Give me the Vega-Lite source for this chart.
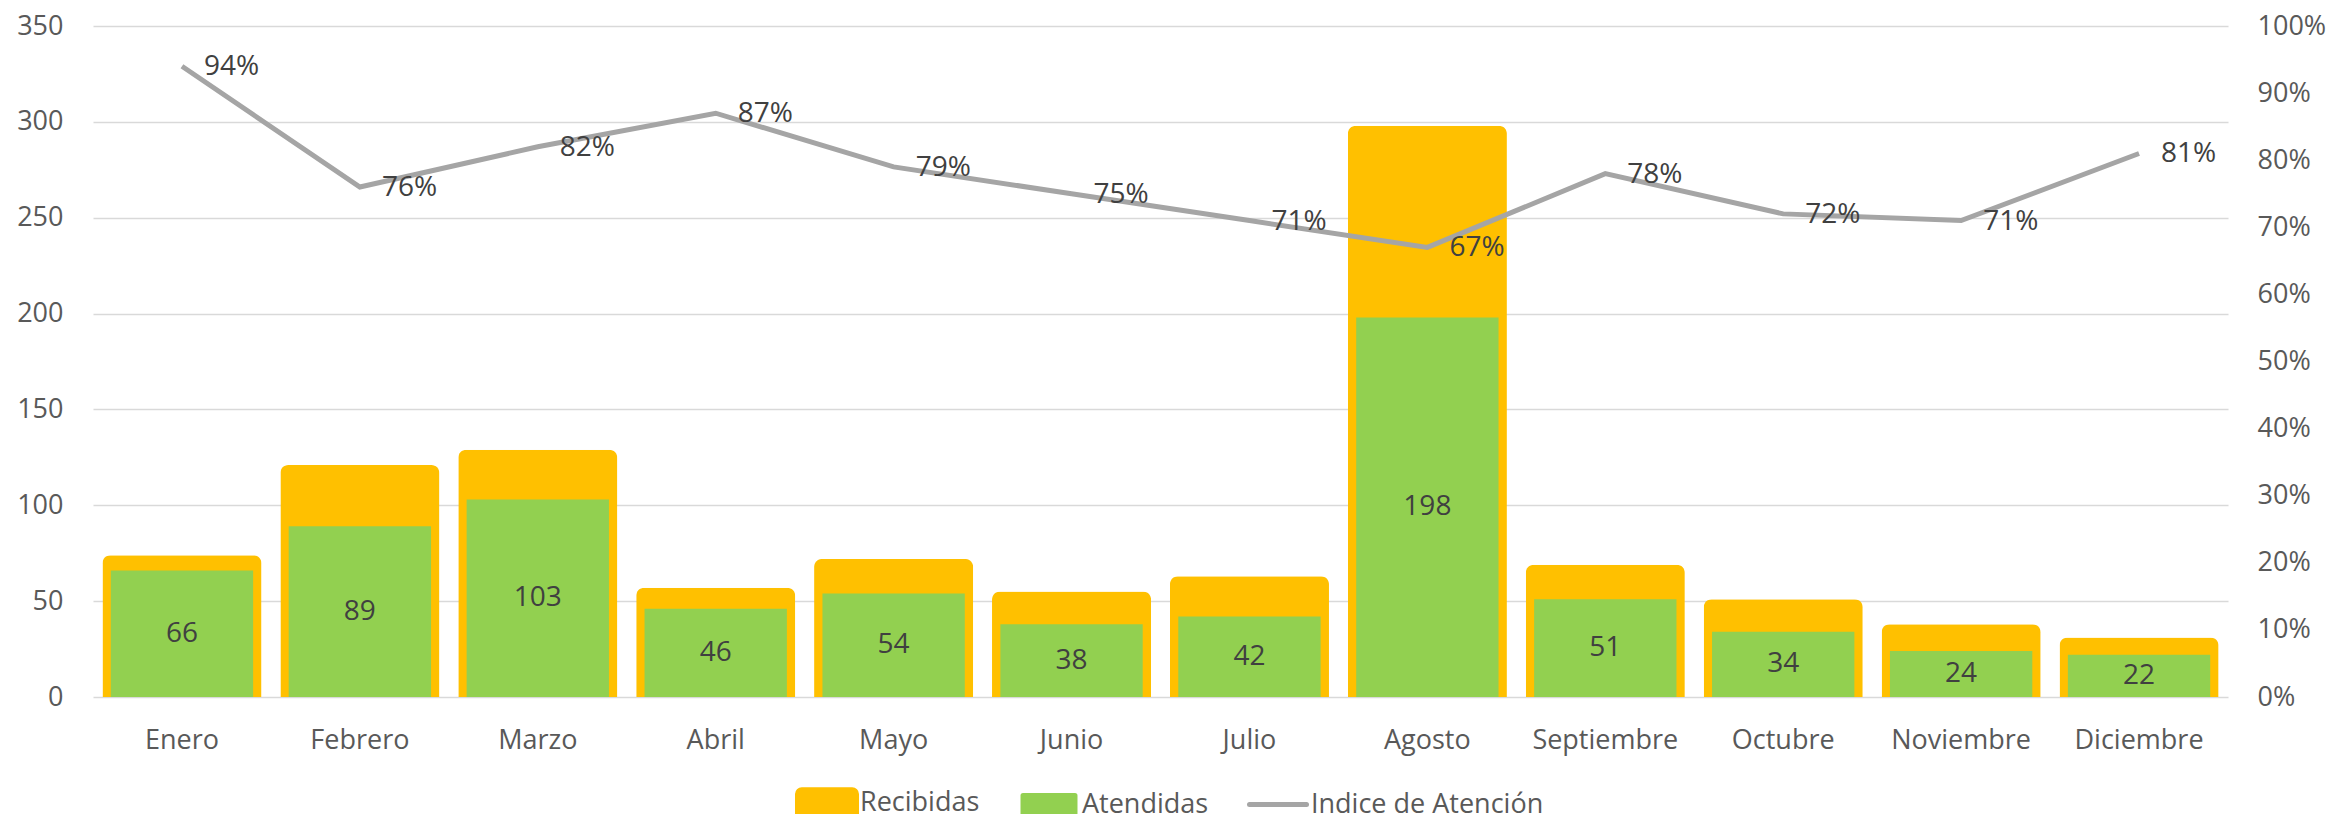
{
  "$schema": "https://vega.github.io/schema/vega-lite/v6.json",
  "width": 2135,
  "height": 671,
  "autosize": {"type": "none"},
  "padding": {"left": 93, "top": 26, "right": 105, "bottom": 117},
  "config": {
    "font": "Open Sans",
    "view": {"stroke": null},
    "axis": {"labelColor": "#595959", "labelFontSize": 27, "domain": false, "ticks": false, "title": null}
  },
  "data": {
    "values": [
      {"mes": "Enero", "recibidas": 74, "atendidas": 66, "indice": 0.94},
      {"mes": "Febrero", "recibidas": 121, "atendidas": 89, "indice": 0.76},
      {"mes": "Marzo", "recibidas": 129, "atendidas": 103, "indice": 0.82},
      {"mes": "Abril", "recibidas": 57, "atendidas": 46, "indice": 0.87},
      {"mes": "Mayo", "recibidas": 72, "atendidas": 54, "indice": 0.79},
      {"mes": "Junio", "recibidas": 55, "atendidas": 38, "indice": 0.75},
      {"mes": "Julio", "recibidas": 63, "atendidas": 42, "indice": 0.71},
      {"mes": "Agosto", "recibidas": 298, "atendidas": 198, "indice": 0.67},
      {"mes": "Septiembre", "recibidas": 69, "atendidas": 51, "indice": 0.78},
      {"mes": "Octubre", "recibidas": 51, "atendidas": 34, "indice": 0.72},
      {"mes": "Noviembre", "recibidas": 38, "atendidas": 24, "indice": 0.71},
      {"mes": "Diciembre", "recibidas": 31, "atendidas": 22, "indice": 0.81}
    ]
  },
  "encoding": {
    "x": {
      "field": "mes", "type": "nominal", "sort": null,
      "scale": {"paddingInner": 0, "paddingOuter": 0},
      "axis": {"labelAngle": 0, "labelPadding": 30, "grid": false}
    }
  },
  "layer": [
    {
      "encoding": {
        "y": {
          "type": "quantitative",
          "scale": {"domain": [0, 350], "nice": false},
          "axis": {"values": [0, 50, 100, 150, 200, 250, 300, 350], "grid": true, "gridColor": "#D9D9D9", "gridWidth": 1.5, "labelPadding": 30, "orient": "left"}
        }
      },
      "layer": [
        {
          "mark": {"type": "bar", "width": {"band": 0.894}, "cornerRadiusTopLeft": 8, "cornerRadiusTopRight": 8},
          "encoding": {
            "y": {"field": "recibidas"},
            "color": {
              "datum": "Recibidas", "type": "nominal",
              "scale": {"domain": ["Recibidas", "Atendidas", "Indice de Atención"], "range": ["#FFC000", "#92D050", "#A5A5A5"]},
              "legend": {
                "title": null, "orient": "none", "direction": "horizontal",
                "legendX": 703, "legendY": 746,
                "labelFontSize": 27, "labelColor": "#595959", "labelOffset": 2, "labelLimit": 0,
                "columnPadding": 38, "symbolSize": 3249, "symbolStrokeWidth": 5,
                "encode": {
                  "symbols": {
                    "update": {
                      "shape": {"signal": "(datum.value === 'Recibidas' ? 'M-0.885,-0.47H0.885A0.15,0.15 0 0 1 1.035,-0.32V0.47H-1.035V-0.32A0.15,0.15 0 0 1 -0.885,-0.47Z' : (datum.value === 'Atendidas' ? 'M-0.912,-0.316H0.912V0.316H-0.912Z' : 'stroke'))"},
                      "fill": {"signal": "(datum.value === 'Indice de Atención' ? 'transparent' : scale('color', datum.value))"},
                      "stroke": {"signal": "(datum.value === 'Atendidas' ? 'transparent' : scale('color', datum.value))"},
                      "strokeWidth": {"value": 5},
                      "strokeCap": {"value": "round"},
                      "strokeJoin": {"value": "round"},
                      "opacity": {"value": 1}
                    }
                  }
                }
              }
            }
          }
        },
        {
          "mark": {"type": "bar", "width": {"band": 0.8}},
          "encoding": {
            "y": {"field": "atendidas"},
            "color": {"datum": "Atendidas", "type": "nominal"}
          }
        },
        {
          "transform": [{"calculate": "datum.atendidas / 2", "as": "mid"}],
          "mark": {"type": "text", "fontSize": 28, "color": "#404040", "baseline": "middle"},
          "encoding": {
            "y": {"field": "mid"},
            "text": {"field": "atendidas"}
          }
        }
      ]
    },
    {
      "encoding": {
        "y": {
          "field": "indice", "type": "quantitative",
          "scale": {"domain": [0, 1], "nice": false},
          "axis": {"orient": "right", "values": [0, 0.1, 0.2, 0.3, 0.4, 0.5, 0.6, 0.7, 0.8, 0.9, 1], "format": ".0%", "grid": false, "labelPadding": 29}
        }
      },
      "layer": [
        {
          "mark": {"type": "line", "strokeWidth": 5},
          "encoding": {
            "color": {"datum": "Indice de Atención", "type": "nominal"}
          }
        },
        {
          "mark": {"type": "text", "fontSize": 28, "color": "#404040", "align": "left", "baseline": "middle", "dx": 22, "dy": 1},
          "encoding": {
            "text": {"field": "indice", "format": ".0%"}
          }
        }
      ]
    }
  ],
  "resolve": {"scale": {"y": "independent"}}
}
